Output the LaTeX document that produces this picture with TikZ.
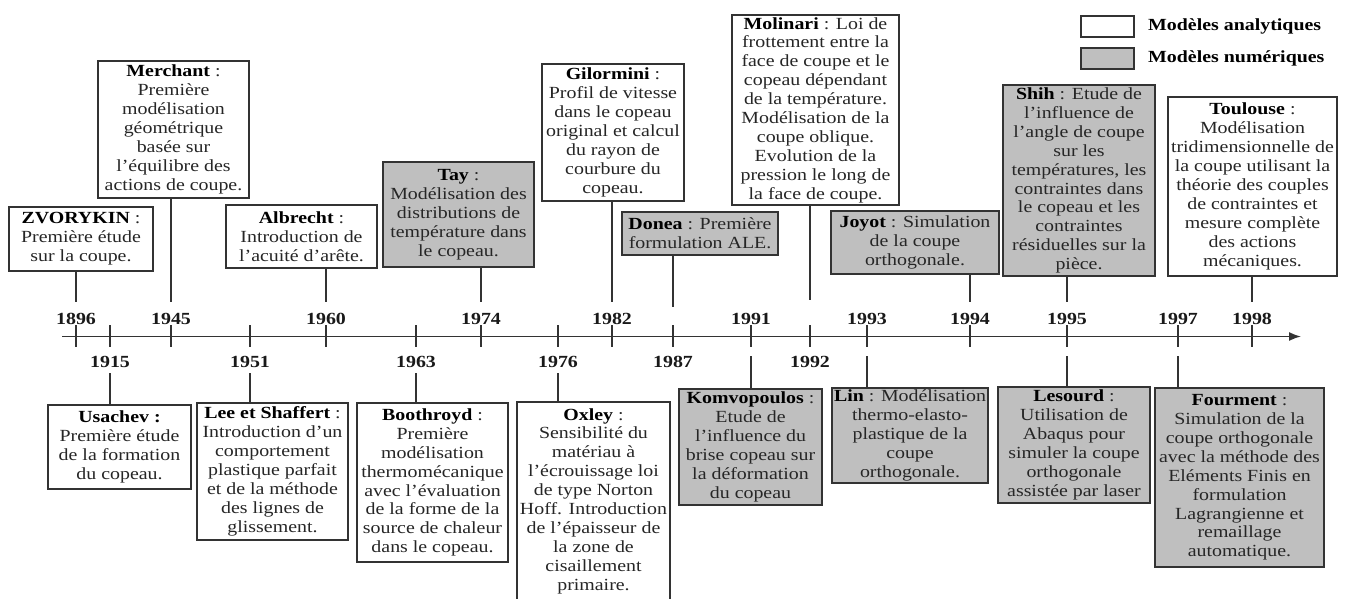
\documentclass[tikz,border=0pt]{standalone}
\usepackage{fontspec}
\setmainfont{Liberation Serif}[FakeStretch=1.17]
\usetikzlibrary{arrows.meta}
\newcommand\boxname[1]{\textcolor{black}{\textbf{#1}}}
\begin{document}
\begin{tikzpicture}[x=1pt,y=-1pt,
  tl/.style={line width=1.6pt, draw=black!80},
  boxbase/.style={draw=black!80, line width=1.8pt, align=center, inner sep=0pt,
    font=\fontsize{17}{18.9}\selectfont, text=black!85},
  abox/.style={boxbase, fill=white},
  nbox/.style={boxbase, fill=black!25},
  year/.style={font=\fontsize{17}{19}\selectfont\bfseries, inner sep=0pt, text=black!90},
  legtext/.style={font=\fontsize{17}{19}\selectfont\bfseries, inner sep=0pt, anchor=west},
  upc/.style={tl, shorten <=35pt},
  dnc/.style={tl, shorten <=36.5pt},
  dnd/.style={tl, shorten <=19.5pt}
]
\useasboundingbox (0,0) rectangle (1346,599);

% axis
\coordinate (axs) at (62,336.5);
\coordinate (axe) at (1301,336.5);
\draw[tl, -{Latex[length=12pt,width=9pt]}] (axs) -- (axe);

% tick coordinates
\foreach \yr/\xx in {1896/76,1915/110,1945/171,1951/250,1960/326,1963/416,1974/481,1976/558,1982/612,1987/673,1991/751,1992/810,1993/867,1994/970,1995/1067,1997/1178,1998/1252}{
  \coordinate (t\yr) at (\xx,336.5);
  \draw[tl] ([yshift=11.5pt]t\yr) -- ([yshift=-10.5pt]t\yr);
}

% year labels above
\foreach \yr/\xx in {1896/76,1945/171,1960/326,1974/481,1982/612,1991/751,1993/867,1994/970,1995/1067,1997/1178,1998/1252}{
  \node[year] (y\yr) at (\xx,318.5) {\yr};
}
% year labels below
\foreach \yr/\xx in {1915/110,1951/250,1963/416,1976/558,1987/673,1992/810}{
  \node[year] (y\yr) at (\xx,362) {\yr};
}

% legend
\node[abox, minimum width=53pt, minimum height=21pt] (lega) at (1107.5,26.5) {};
\node[nbox, minimum width=53pt, minimum height=21pt] (legn) at (1107.5,58.5) {};
\node[legtext] (legat) at (1148,26.5) {Modèles analytiques};
\node[legtext] (legnt) at (1148,58.5) {Modèles numériques};

% boxes above
\node[abox, minimum width=144pt, minimum height=64pt] (zvorykin) at (81,239)
  {\boxname{ZVORYKIN} :\\Première étude\\sur la coupe.};
\node[abox, minimum width=151pt, minimum height=137pt] (merchant) at (173.5,129.5)
  {\boxname{Merchant} :\\Première\\modélisation\\géométrique\\basée sur\\l’équilibre des\\actions de coupe.};
\node[abox, minimum width=151pt, minimum height=63pt] (albrecht) at (301.5,236.5)
  {\boxname{Albrecht} :\\Introduction de\\l’acuité d’arête.};
\node[nbox, minimum width=151pt, minimum height=105pt] (tay) at (458.5,214.5)
  {\boxname{Tay} :\\Modélisation des\\distributions de\\température dans\\le copeau.};
\node[abox, minimum width=142pt, minimum height=137pt] (gilormini) at (613,132.5)
  {\boxname{Gilormini} :\\Profil de vitesse\\dans le copeau\\original et calcul\\du rayon de\\courbure du\\copeau.};
\node[nbox, minimum width=156pt, minimum height=43pt] (donea) at (700,233.5)
  {\boxname{Donea} : Première\\formulation ALE.};
\node[abox, minimum width=167pt, minimum height=190pt] (molinari) at (815.5,110)
  {\boxname{Molinari} : Loi de\\frottement entre la\\face de coupe et le\\copeau dépendant\\de la température.\\Modélisation de la\\coupe oblique.\\Evolution de la\\pression le long de\\la face de coupe.};
\node[nbox, minimum width=168pt, minimum height=63pt] (joyot) at (915,242.5)
  {\boxname{Joyot} : Simulation\\de la coupe\\orthogonale.};
\node[nbox, minimum width=152pt, minimum height=191pt] (shih) at (1079,180.5)
  {\boxname{Shih} : Etude de\\l’influence de\\l’angle de coupe\\sur les\\températures, les\\contraintes dans\\le copeau et les\\contraintes\\résiduelles sur la\\pièce.};
\node[abox, minimum width=169pt, minimum height=179pt] (toulouse) at (1252.5,186.5)
  {\boxname{Toulouse} :\\Modélisation\\tridimensionnelle de\\la coupe utilisant la\\théorie des couples\\de contraintes et\\mesure complète\\des actions\\mécaniques.};

% boxes below
\node[abox, minimum width=143pt, minimum height=84pt] (usachev) at (119.5,447)
  {\boxname{Usachev :}\\Première étude\\de la formation\\du copeau.};
\node[abox, minimum width=151pt, minimum height=137pt] (lee) at (272.5,471.5)
  {\boxname{Lee et Shaffert} :\\Introduction d’un\\comportement\\plastique parfait\\et de la méthode\\des lignes de\\glissement.};
\node[abox, minimum width=151pt, minimum height=159pt] (boothroyd) at (432.5,482.5)
  {\boxname{Boothroyd} :\\Première\\modélisation\\thermomécanique\\avec l’évaluation\\de la forme de la\\source de chaleur\\dans le copeau.};
\node[boxbase, draw=none, fill=white, minimum width=151pt, minimum height=196pt] (oxley) at (593.5,501)
  {\boxname{Oxley} :\\Sensibilité du\\matériau à\\l’écrouissage loi\\de type Norton\\Hoff. Introduction\\de l’épaisseur de\\la zone de\\cisaillement\\primaire.};
\draw[draw=black!80, line width=1.8pt] ([yshift=-5pt]oxley.south west) -- (oxley.north west) -- (oxley.north east) -- ([yshift=-5pt]oxley.south east);
\node[nbox, minimum width=143pt, minimum height=116pt] (komvo) at (750.5,447)
  {\boxname{Komvopoulos} :\\Etude de\\l’influence du\\brise copeau sur\\la déformation\\du copeau};
\node[nbox, minimum width=156pt, minimum height=95pt] (lin) at (910,435.5)
  {\boxname{Lin} : Modélisation\\thermo-elasto-\\plastique de la\\coupe\\orthogonale.};
\node[nbox, minimum width=152pt, minimum height=116pt] (lesourd) at (1074,445)
  {\boxname{Lesourd} :\\Utilisation de\\Abaqus pour\\simuler la coupe\\orthogonale\\assistée par laser};
\node[nbox, minimum width=169pt, minimum height=179pt] (fourment) at (1239.5,477.5)
  {\boxname{Fourment} :\\Simulation de la\\coupe orthogonale\\avec la méthode des\\Eléments Finis en\\formulation\\Lagrangienne et\\remaillage\\automatique.};

% connectors above
\draw[upc] (t1896) -- (t1896 |- zvorykin.south);
\draw[upc] (t1945) -- (t1945 |- merchant.south);
\draw[upc] (t1960) -- (t1960 |- albrecht.south);
\draw[upc] (t1974) -- (t1974 |- tay.south);
\draw[upc] (t1982) -- (t1982 |- gilormini.south);
\draw[tl, shorten <=30pt] (t1987) -- (t1987 |- donea.south);
\draw[tl, shorten <=37pt] (t1992) -- (t1992 |- molinari.south);
\draw[upc] (t1994) -- (t1994 |- joyot.south);
\draw[upc] (t1995) -- (t1995 |- shih.south);
\draw[upc] (t1998) -- (t1998 |- toulouse.south);

% connectors below
\draw[dnc] (t1915) -- (t1915 |- usachev.north);
\draw[dnc] (t1951) -- (t1951 |- lee.north);
\draw[dnc] (t1963) -- (t1963 |- boothroyd.north);
\draw[dnc] (t1976) -- (t1976 |- oxley.north);
\draw[dnd] (t1991) -- (t1991 |- komvo.north);
\draw[dnd] (t1993) -- (t1993 |- lin.north);
\draw[dnd] (t1995) -- (t1995 |- lesourd.north);
\draw[dnd] (t1997) -- (t1997 |- fourment.north);
\end{tikzpicture}
\end{document}
